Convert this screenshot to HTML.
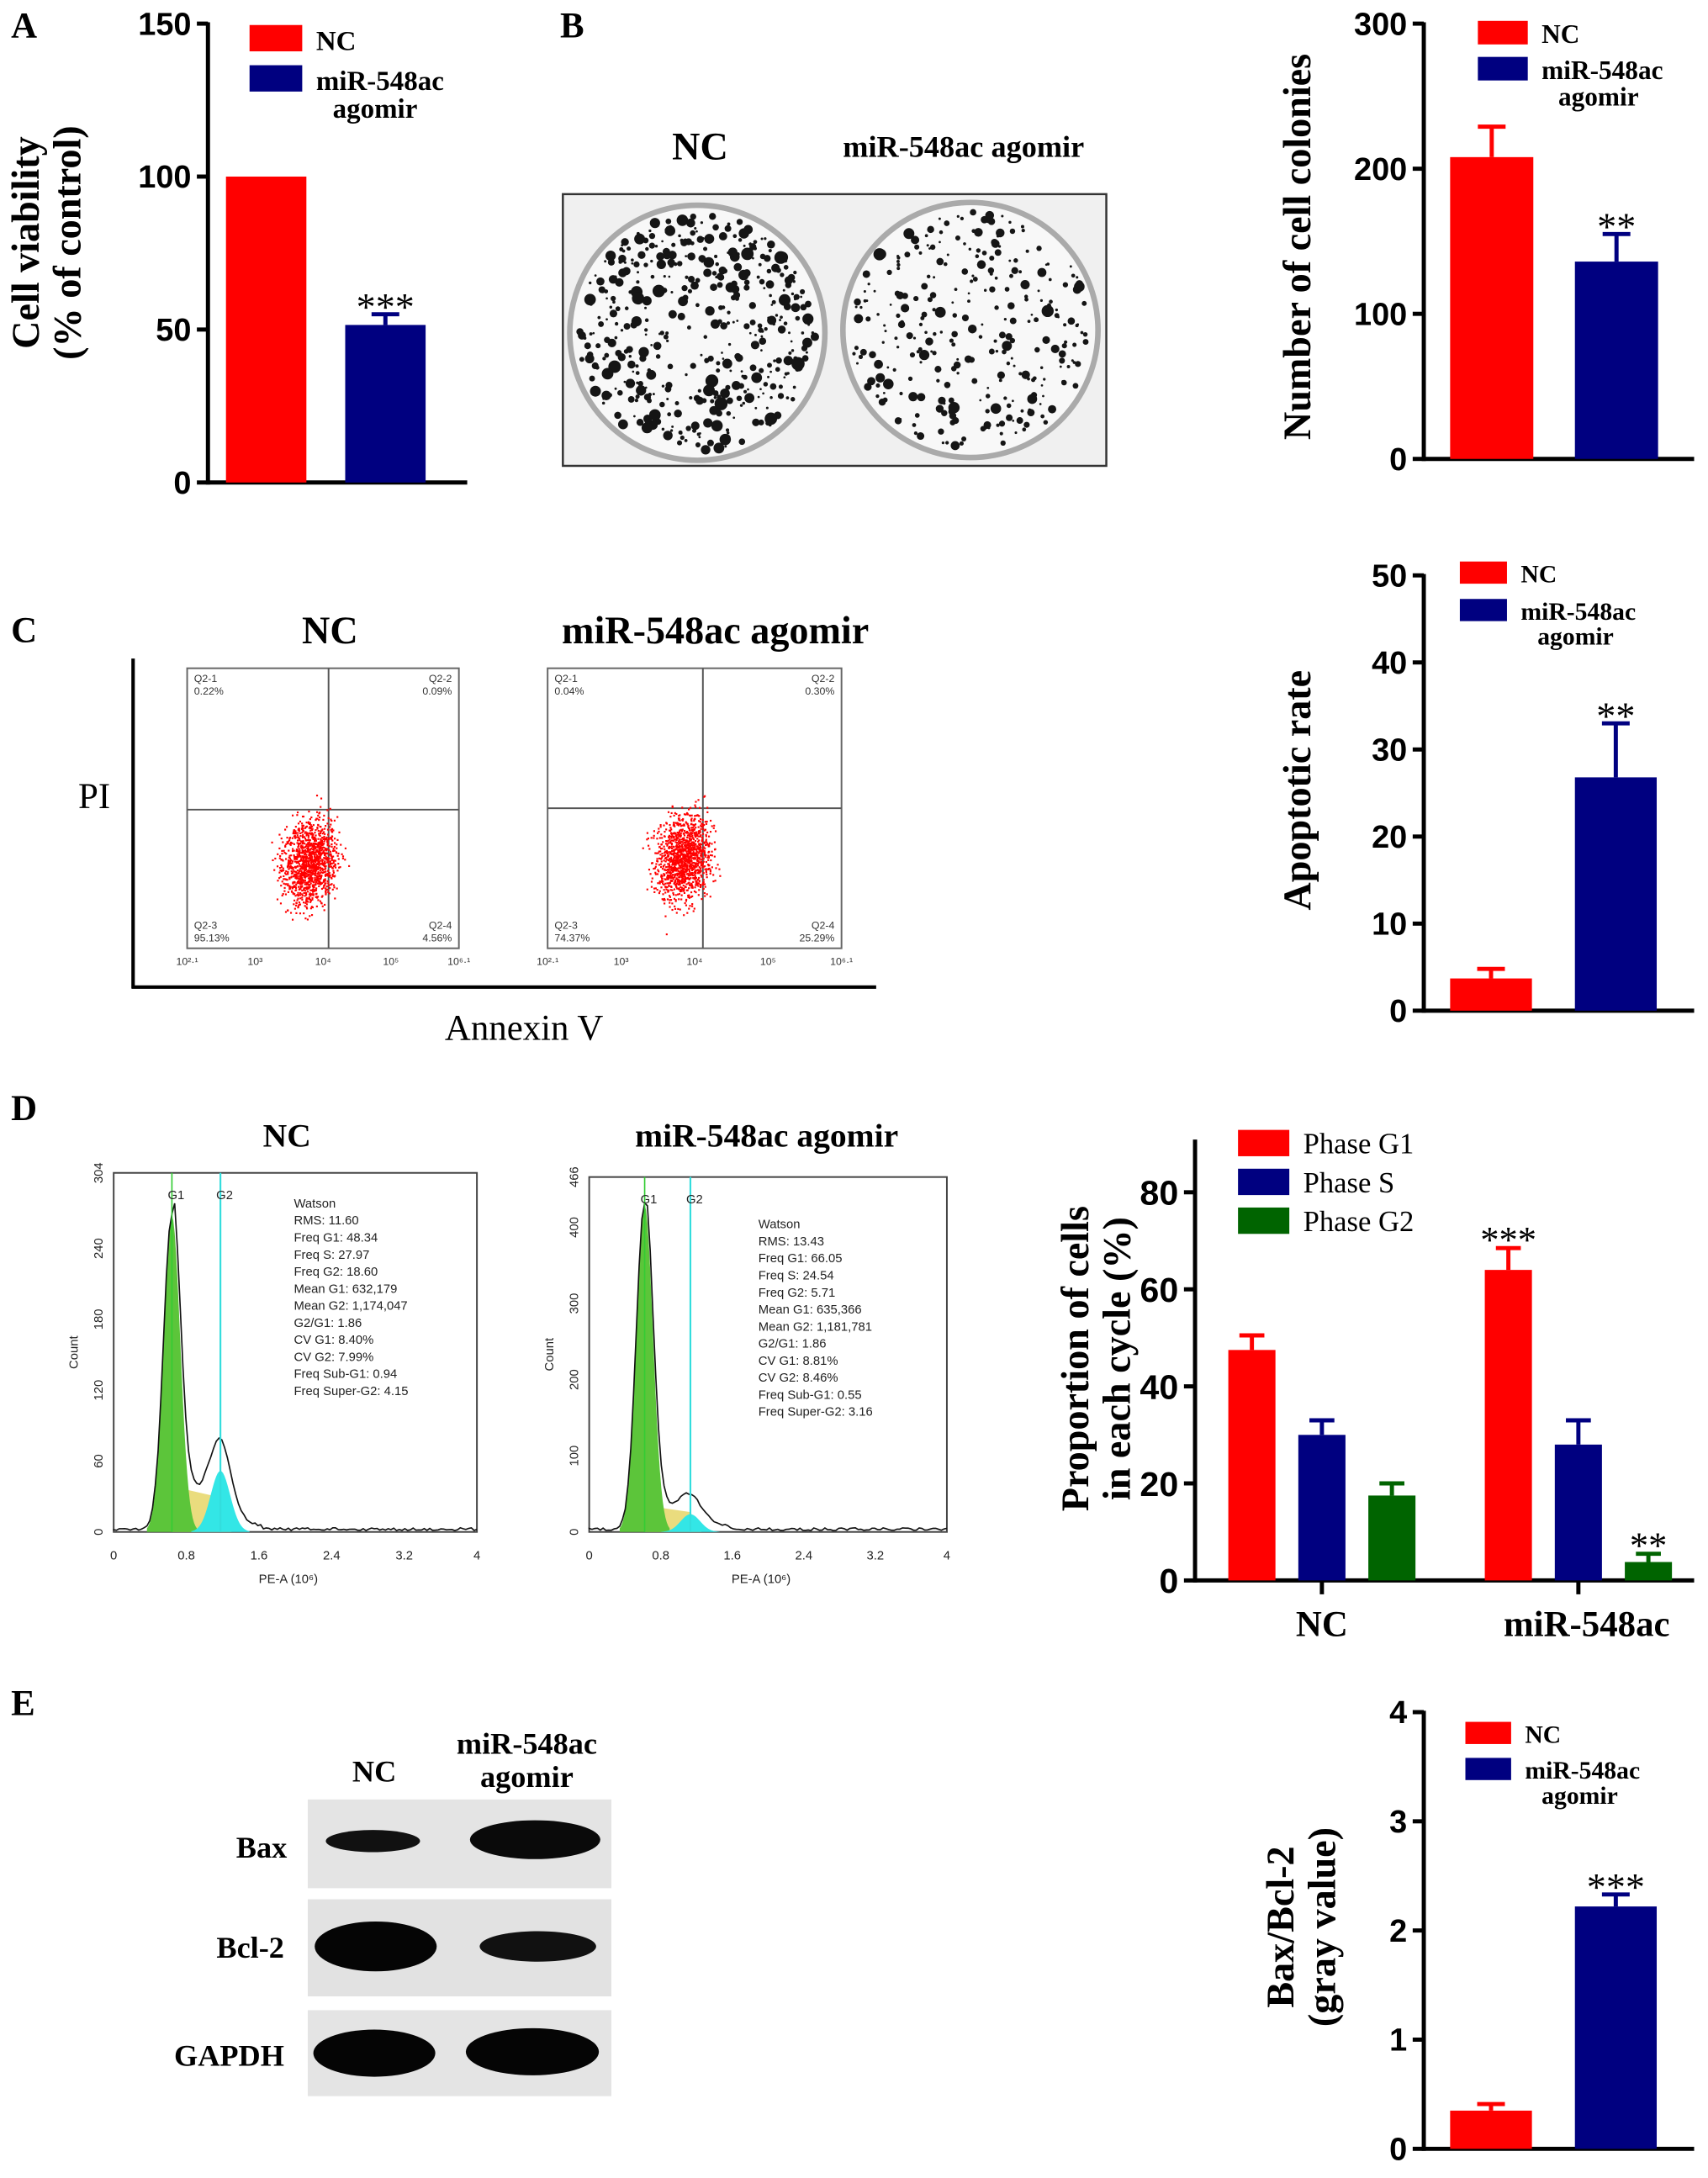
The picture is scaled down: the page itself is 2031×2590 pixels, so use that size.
<!DOCTYPE html>
<html><head><meta charset="utf-8">
<style>
html,body{margin:0;padding:0;background:#fff;}
svg{display:block;}
.serif{font-family:"Liberation Serif",serif;}
.sans{font-family:"Liberation Sans",sans-serif;}
</style></head>
<body>
<svg id="fig" width="2031" height="2590" viewBox="0 0 1232 1571" xmlns="http://www.w3.org/2000/svg">
<rect width="1232" height="1571" fill="#fff"/>
<g class="serif" font-weight="bold" font-size="26" fill="#000">
<text x="8" y="27">A</text>
<text x="404" y="27">B</text>
<text x="8" y="463">C</text>
<text x="8" y="808">D</text>
<text x="8" y="1237">E</text>
</g>

<g>
<text class="serif" font-weight="bold" font-size="28" x="505" y="115" text-anchor="middle">NC</text>
<text class="serif" font-weight="bold" font-size="22" x="695" y="113" text-anchor="middle">miR-548ac agomir</text>
<rect x="406" y="140" width="392" height="196" fill="#f0f0f0" stroke="#333" stroke-width="1.5"/>
<circle cx="503" cy="240" r="92" fill="#f8f8f8" stroke="#aaa" stroke-width="4"/>
<circle cx="700" cy="238" r="92" fill="#f8f8f8" stroke="#aaa" stroke-width="4"/>
<g id="dots"></g>
</g>

<g>
<text class="serif" font-weight="bold" font-size="28" x="238" y="464" text-anchor="middle">NC</text>
<text class="serif" font-weight="bold" font-size="28" x="516" y="464" text-anchor="middle">miR-548ac agomir</text>
<line x1="96" y1="475" x2="96" y2="713" stroke="#000" stroke-width="2.5"/>
<line x1="95" y1="712" x2="632" y2="712" stroke="#000" stroke-width="2.5"/>
<text class="serif" font-size="26" x="68" y="583" text-anchor="middle">PI</text>
<text class="serif" font-size="26" x="378" y="750" text-anchor="middle">Annexin V</text>
<g id="flow"></g>
</g>

<g>
<text class="serif" font-weight="bold" font-size="24" x="207" y="827" text-anchor="middle">NC</text>
<text class="serif" font-weight="bold" font-size="24" x="553" y="827" text-anchor="middle">miR-548ac agomir</text>
<g id="hist"></g>
</g>

<g>
<g class="serif" font-weight="bold" font-size="22" text-anchor="middle">
<text x="270" y="1285">NC</text>
<text x="380" y="1265">miR-548ac</text>
<text x="380" y="1289">agomir</text>
</g>
<g class="serif" font-weight="bold" font-size="22" text-anchor="end">
<text x="207" y="1340">Bax</text>
<text x="205" y="1412">Bcl-2</text>
<text x="205" y="1490">GAPDH</text>
</g>
<rect x="222" y="1298" width="219" height="64" fill="#e4e4e4"/>
<rect x="222" y="1370" width="219" height="70" fill="#e2e2e2"/>
<rect x="222" y="1450" width="219" height="62" fill="#e4e4e4"/>
<ellipse cx="269" cy="1328" rx="34" ry="8" fill="#111"/>
<ellipse cx="386" cy="1327" rx="47" ry="14" fill="#0a0a0a"/>
<ellipse cx="271" cy="1404" rx="44" ry="18" fill="#050505"/>
<ellipse cx="388" cy="1404" rx="42" ry="11" fill="#111"/>
<ellipse cx="270" cy="1481" rx="44" ry="17" fill="#050505"/>
<ellipse cx="384" cy="1480" rx="48" ry="17" fill="#050505"/>
</g>

<g id="charts"></g>
</svg>

<script>
const catsA = ["NC", "miR-548ac agomir"];
const valsA = [100, 51.5];
const errA = [0, 55];
const ticksA = [0, 50, 100, 150];
const starsA = ["", "***"];

const valsB = [208, 136];
const errB = [229, 155];
const ticksB = [0, 100, 200, 300];
const starsB = ["", "**"];

const valsC = [3.7, 26.8];
const errC = [4.8, 33];
const ticksC = [0, 10, 20, 30, 40, 50];
const starsC = ["", "**"];

const groupsD = ["NC", "miR-548ac"];
const phasesD = ["Phase G1", "Phase S", "Phase G2"];
const g1D = [47.5, 64];
const sD = [30, 28];
const g2D = [17.5, 3.8];
const g1ErrD = [50.5, 68.5];
const sErrD = [33, 33];
const g2ErrD = [20, 5.5];
const starsD = [["", "", ""], ["***", "", "**"]];
const ticksD = [0, 20, 40, 60, 80];

const valsE = [0.35, 2.22];
const errE = [0.41, 2.33];
const ticksE = [0, 1, 2, 3, 4];
const starsE = ["", "***"];

const RED = "#ff0000", NAVY = "#000080", GREEN = "#006400";
const NS = "http://www.w3.org/2000/svg";
function mk(tag, attrs, parent) {
  const e = document.createElementNS(NS, tag);
  for (const k in attrs) e.setAttribute(k, attrs[k]);
  parent.appendChild(e);
  return e;
}
function txt(s, attrs, parent) { const t = mk("text", attrs, parent); t.textContent = s; return t; }

const charts = document.getElementById("charts");

function twoBar(o) {
  const g = mk("g", {}, charts);
  
  
  const yS = v => o.y0 - (v / o.max) * (o.y0 - o.yTop);
  const ax = mk("g", {}, g);
  
  
  mk("line", {x1: o.ax, y1: yS(o.max) - 1, x2: o.ax, y2: o.y0 + 1.5, stroke: "#000", "stroke-width": 3}, ax);
  o.ticks.forEach(t => {
    mk("line", {x1: o.ax - 8, y1: yS(t), x2: o.ax, y2: yS(t), stroke: "#000", "stroke-width": 3}, ax);
    const tl = txt(String(t), {x: o.ax - 12, y: yS(t) + 8, "text-anchor": "end", "font-size": 23, "font-weight": "bold", "font-family": "Liberation Sans, sans-serif"}, ax);
    
    
  });
  const xa = mk("line", {x1: o.ax, y1: o.y0, x2: o.xEnd, y2: o.y0, stroke: "#000", "stroke-width": 3}, g);
  
  
  const cols = [RED, NAVY];
  o.vals.forEach((v, i) => {
    const x = o.bx[i], w = o.bw;
    if (o.err[i] > v) {
      mk("line", {x1: x + w / 2, y1: yS(v), x2: x + w / 2, y2: yS(o.err[i]), stroke: cols[i], "stroke-width": 3}, g);
      mk("line", {x1: x + w / 2 - 10, y1: yS(o.err[i]), x2: x + w / 2 + 10, y2: yS(o.err[i]), stroke: cols[i], "stroke-width": 3}, g);
    }
    const b = mk("rect", {x: x, y: yS(v), width: w, height: o.y0 - yS(v), fill: cols[i]}, g);
    
    
    if (o.stars[i]) {
      const s = txt(o.stars[i], {x: x + w / 2, y: yS(o.err[i]) + 4, "text-anchor": "middle", "font-size": 28, "font-family": "Liberation Serif, serif"}, g);
      
      
    }
  });
  const lg = mk("g", {}, g);
  
  
  mk("rect", {x: o.lx, y: o.ly, width: o.lw, height: o.lh, fill: RED}, lg);
  mk("rect", {x: o.lx, y: o.ly + o.lgap, width: o.lw, height: o.lh, fill: NAVY}, lg);
  const f = {"font-size": o.lfs, "font-weight": "bold", "font-family": "Liberation Serif, serif"};
  txt("NC", Object.assign({x: o.lx + o.lw + 10, y: o.ly + o.lh - 1}, f), lg);
  txt("miR-548ac", Object.assign({x: o.lx + o.lw + 10, y: o.ly + o.lgap + o.lh - 1}, f), lg);
  txt("agomir", Object.assign({x: o.lx + o.lw + 22, y: o.ly + o.lgap + o.lh + o.lfs - 1}, f), lg);
  const yt = mk("g", {transform: `translate(${o.tx},${o.ty}) rotate(-90)`}, g);
  
  
  o.title.forEach((line, k) => txt(line, {x: 0, y: k * 30, "text-anchor": "middle", "font-size": 28, "font-weight": "bold", "font-family": "Liberation Serif, serif"}, yt));
}

twoBar({name: "chart-cell-viability", ax: 150, y0: 348, yTop: 17, max: 150, xEnd: 337, ticks: ticksA, vals: valsA, err: errA, stars: starsA,
  bx: [163, 249], bw: 58, lx: 180, ly: 18, lw: 38, lh: 19, lgap: 29, lfs: 20, title: ["Cell viability", "(% of control)"], tx: 28, ty: 175});
twoBar({name: "chart-cell-colonies", ax: 1027, y0: 331, yTop: 17, max: 300, xEnd: 1222, ticks: ticksB, vals: valsB, err: errB, stars: starsB,
  bx: [1046, 1136], bw: 60, lx: 1066, ly: 15, lw: 36, lh: 17, lgap: 26, lfs: 19, title: ["Number of cell colonies"], tx: 945, ty: 178});
twoBar({name: "chart-apoptotic-rate", ax: 1027, y0: 729, yTop: 415, max: 50, xEnd: 1222, ticks: ticksC, vals: valsC, err: errC, stars: starsC,
  bx: [1046, 1136], bw: 59, lx: 1053, ly: 405, lw: 34, lh: 16, lgap: 27, lfs: 18, title: ["Apoptotic rate"], tx: 945, ty: 570});
twoBar({name: "chart-bax-bcl2", ax: 1027, y0: 1550, yTop: 1235, max: 4, xEnd: 1222, ticks: ticksE, vals: valsE, err: errE, stars: starsE,
  bx: [1046, 1136], bw: 59, lx: 1057, ly: 1242, lw: 33, lh: 16, lgap: 26, lfs: 18, title: ["Bax/Bcl-2", "(gray value)"], tx: 933, ty: 1390});

(function () {
  const g = mk("g", {}, charts);
  
  
  const ax = 862, y0 = 1140, per = 3.5;
  const yS = v => y0 - v * per;
  mk("line", {x1: ax, y1: 822, x2: ax, y2: y0 + 1.5, stroke: "#000", "stroke-width": 3}, g);
  ticksD.forEach(t => {
    mk("line", {x1: ax - 8, y1: yS(t), x2: ax, y2: yS(t), stroke: "#000", "stroke-width": 3}, g);
    const tl = txt(String(t), {x: ax - 12, y: yS(t) + 9, "text-anchor": "end", "font-size": 25, "font-weight": "bold", "font-family": "Liberation Sans, sans-serif"}, g);
    
    
  });
  mk("line", {x1: ax, y1: y0, x2: 1222, y2: y0, stroke: "#000", "stroke-width": 3}, g);
  const series = [g1D, sD, g2D], errs = [g1ErrD, sErrD, g2ErrD], cols = [RED, NAVY, GREEN];
  const groupX = [886, 1071], step = 50.5, bw = 34;
  groupsD.forEach((name, gi) => {
    const cx = groupX[gi] + step + bw / 2;
    mk("line", {x1: cx, y1: y0, x2: cx, y2: y0 + 10, stroke: "#000", "stroke-width": 3}, g);
    const gl = txt(name, {x: cx + (gi ? 6 : 0), y: y0 + 40, "text-anchor": "middle", "font-size": 26, "font-weight": "bold", "font-family": "Liberation Serif, serif"}, g);
    
    
    series.forEach((ser, si) => {
      const x = groupX[gi] + si * step, v = ser[gi], e = errs[si][gi];
      mk("line", {x1: x + bw / 2, y1: yS(v), x2: x + bw / 2, y2: yS(e), stroke: cols[si], "stroke-width": 3}, g);
      mk("line", {x1: x + bw / 2 - 9, y1: yS(e), x2: x + bw / 2 + 9, y2: yS(e), stroke: cols[si], "stroke-width": 3}, g);
      const b = mk("rect", {x: x, y: yS(v), width: bw, height: y0 - yS(v), fill: cols[si]}, g);
      
      
      if (starsD[gi][si]) {
        const s = txt(starsD[gi][si], {x: x + bw / 2, y: yS(e) + 3, "text-anchor": "middle", "font-size": 27, "font-family": "Liberation Serif, serif"}, g);
        
        
      }
    });
  });
  const lg = mk("g", {}, g);
  
  
  phasesD.forEach((p, i) => {
    mk("rect", {x: 893, y: 815 + i * 28, width: 37, height: 19, fill: cols[i]}, lg);
    txt(p, {x: 940, y: 832 + i * 28, "font-size": 21, "font-family": "Liberation Serif, serif"}, lg);
  });
  const yt = mk("g", {transform: "translate(775,980) rotate(-90)"}, g);
  
  
  txt("Proportion of cells", {x: 0, y: 10, "text-anchor": "middle", "font-size": 28, "font-weight": "bold", "font-family": "Liberation Serif, serif"}, yt);
  txt("in each cycle (%)", {x: 0, y: 40, "text-anchor": "middle", "font-size": 28, "font-weight": "bold", "font-family": "Liberation Serif, serif"}, yt);
})();

// ---- decorative imagery ----
let seed = 7;
function rnd() { seed = (seed * 16807) % 2147483647; return seed / 2147483647; }
function gauss() { return (rnd() + rnd() + rnd() + rnd() - 2) / 0.58; }

const dots = document.getElementById("dots");
[[503, 240, 480], [700, 238, 300]].forEach(([cx, cy, n]) => {
  for (let i = 0; i < n; i++) {
    const a = rnd() * 6.283, r = Math.pow(rnd(), 0.4) * 86;
    const rr = 0.8 + rnd() * rnd() * 4;
    mk("circle", {cx: cx + r * Math.cos(a), cy: cy + r * Math.sin(a), r: rr, fill: "#151515"}, dots);
  }
});

const flow = document.getElementById("flow");
function flowPlot(x0, x1, yT, yB, qx, qy, cx, cy, labels) {
  mk("rect", {x: x0, y: yT, width: x1 - x0, height: yB - yT, fill: "none", stroke: "#666", "stroke-width": 1.2}, flow);
  mk("line", {x1: qx, y1: yT, x2: qx, y2: yB, stroke: "#555", "stroke-width": 1.2}, flow);
  mk("line", {x1: x0, y1: qy, x2: x1, y2: qy, stroke: "#555", "stroke-width": 1.2}, flow);
  for (let i = 0; i < 1300; i++) {
    const u = gauss(), v = gauss();
    mk("rect", {x: cx + u * 9 + v * 4, y: cy + v * 13 - u * 8, width: 1.3, height: 1.3, fill: "#ff0000"}, flow);
  }
  const f = {"font-size": 7.5, "font-family": "Liberation Sans, sans-serif", fill: "#333"};
  txt(labels[0], Object.assign({x: x0 + 5, y: yT + 10}, f), flow);
  txt(labels[1], Object.assign({x: x0 + 5, y: yT + 19}, f), flow);
  txt(labels[2], Object.assign({x: x1 - 5, y: yT + 10, "text-anchor": "end"}, f), flow);
  txt(labels[3], Object.assign({x: x1 - 5, y: yT + 19, "text-anchor": "end"}, f), flow);
  txt(labels[4], Object.assign({x: x0 + 5, y: yB - 14}, f), flow);
  txt(labels[5], Object.assign({x: x0 + 5, y: yB - 5}, f), flow);
  txt(labels[6], Object.assign({x: x1 - 5, y: yB - 14, "text-anchor": "end"}, f), flow);
  txt(labels[7], Object.assign({x: x1 - 5, y: yB - 5, "text-anchor": "end"}, f), flow);
  const xt = ["10²·¹", "10³", "10⁴", "10⁵", "10⁶·¹"];
  xt.forEach((t, i) => txt(t, Object.assign({x: x0 + i * (x1 - x0) / 4, y: yB + 12, "text-anchor": "middle"}, f), flow));
}
flowPlot(135, 331, 482, 684, 237, 584, 223, 622, ["Q2-1", "0.22%", "Q2-2", "0.09%", "Q2-3", "95.13%", "Q2-4", "4.56%"]);
flowPlot(395, 607, 482, 684, 507, 583, 493, 618, ["Q2-1", "0.04%", "Q2-2", "0.30%", "Q2-3", "74.37%", "Q2-4", "25.29%"]);

const hist = document.getElementById("hist");
function histo(x0, x1, yT, yB, g1x, g2x, h1, h2, sh, yt, ymax, stats, sx, sy) {
  mk("rect", {x: x0, y: yT, width: x1 - x0, height: yB - yT, fill: "none", stroke: "#444", "stroke-width": 1.2}, hist);
  const H = yB - yT;
  const gpath = (c, s, h) => {
    let d = `M${c - 3 * s},${yB}`;
    for (let x = c - 3 * s; x <= c + 3 * s; x += 1) d += ` L${x},${yB - h * H * Math.exp(-((x - c) ** 2) / (2 * s * s))}`;
    return d + ` L${c + 3 * s},${yB} Z`;
  };
  mk("path", {d: `M${g1x},${yB} L${g1x + 8},${yB - sh * H} L${g2x},${yB - sh * H * 0.8} L${g2x + 8},${yB} Z`, fill: "#e8d870", opacity: 0.9}, hist);
  mk("path", {d: gpath(g1x, 6, h1), fill: "#5cc53a"}, hist);
  mk("path", {d: gpath(g2x, 7, h2), fill: "#33e6e6"}, hist);
  let d = `M${x0},${yB - 2}`;
  for (let x = x0; x <= x1; x += 2) {
    const v = h1 * Math.exp(-((x - g1x) ** 2) / 72) + h2 * Math.exp(-((x - g2x) ** 2) / 98) + (x > g1x && x < g2x + 30 ? sh * 0.9 * Math.exp(-((x - g1x - 20) ** 2) / 800) : 0);
    d += ` L${x},${yB - 1 - v * H - rnd() * 2}`;
  }
  mk("path", {d: d, fill: "none", stroke: "#111", "stroke-width": 1}, hist);
  mk("line", {x1: g1x, y1: yT, x2: g1x, y2: yB, stroke: "#3c3", "stroke-width": 1}, hist);
  mk("line", {x1: g2x, y1: yT, x2: g2x, y2: yB, stroke: "#3dd", "stroke-width": 1.3}, hist);
  const f = {"font-size": 9, "font-family": "Liberation Sans, sans-serif", fill: "#222"};
  txt("G1", Object.assign({x: g1x + 3, y: yT + 19, "text-anchor": "middle"}, f), hist);
  txt("G2", Object.assign({x: g2x + 3, y: yT + 19, "text-anchor": "middle"}, f), hist);
  stats.forEach((s, i) => txt(s, Object.assign({x: sx, y: sy + i * 12.3}, f), hist));
  ["0", "0.8", "1.6", "2.4", "3.2", "4"].forEach((t, i) => txt(t, Object.assign({x: x0 + i * (x1 - x0) / 5, y: yB + 20, "text-anchor": "middle"}, f), hist));
  txt("PE-A (10⁶)", Object.assign({x: (x0 + x1) / 2 - 5, y: yB + 37, "text-anchor": "middle"}, f), hist);
  yt.forEach((t, i) => {
    const y = yB - (t / ymax) * H;
    txt(String(t), Object.assign({transform: `translate(${x0 - 8},${y}) rotate(-90)`, "text-anchor": "middle"}, f), hist);
  });
  txt("Count", Object.assign({transform: `translate(${x0 - 26},${(yT + yB) / 2}) rotate(-90)`, "text-anchor": "middle", "font-size": 8}, f), hist);
}
histo(82, 344, 846, 1105, 124, 159, 0.88, 0.17, 0.12, [0, 60, 120, 180, 240, 304], 304,
  ["Watson", "RMS: 11.60", "Freq G1: 48.34", "Freq S: 27.97", "Freq G2: 18.60", "Mean G1: 632,179", "Mean G2: 1,174,047", "G2/G1: 1.86", "CV G1: 8.40%", "CV G2: 7.99%", "Freq Sub-G1: 0.94", "Freq Super-G2: 4.15"], 212, 871);
histo(425, 683, 849, 1105, 465, 498, 0.92, 0.05, 0.07, [0, 100, 200, 300, 400, 466], 466,
  ["Watson", "RMS: 13.43", "Freq G1: 66.05", "Freq S: 24.54", "Freq G2: 5.71", "Mean G1: 635,366", "Mean G2: 1,181,781", "G2/G1: 1.86", "CV G1: 8.81%", "CV G2: 8.46%", "Freq Sub-G1: 0.55", "Freq Super-G2: 3.16"], 547, 886);
</script>
</body></html>
